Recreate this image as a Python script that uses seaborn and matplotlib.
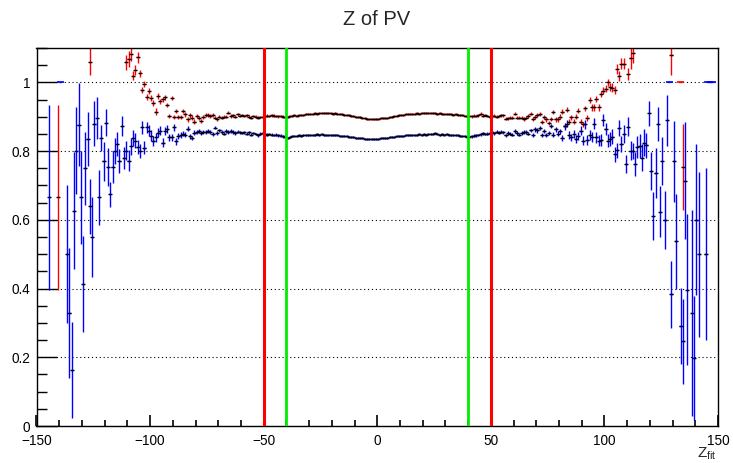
import numpy as np
import pandas as pd
import matplotlib
matplotlib.use("Agg")
import matplotlib.pyplot as plt
from matplotlib.ticker import MultipleLocator, FuncFormatter
import seaborn as sns

# -----------------------------
# Data (efficiency vs Z_fit, 1-unit bins)
# -----------------------------
# core region, consecutive bins from -84.5 to 80.5
core_z = np.arange(-84.5, 81.0, 1.0)

red_core = [
    0.907, 0.892, 0.904, 0.897, 0.886, 0.902, 0.897, 0.887, 0.900, 0.904,
    0.905, 0.902, 0.904, 0.897, 0.892, 0.900, 0.897, 0.900, 0.900, 0.912,
    0.902, 0.904, 0.900, 0.907, 0.902, 0.905, 0.902, 0.904, 0.900, 0.897,
    0.902, 0.900, 0.897, 0.899, 0.900,
    0.901, 0.903, 0.902, 0.904, 0.903, 0.902, 0.901, 0.902, 0.900, 0.899,
    0.900, 0.902, 0.903, 0.904, 0.903, 0.905, 0.906, 0.905, 0.907, 0.908,
    0.907, 0.909, 0.910, 0.909, 0.910, 0.911, 0.910, 0.911, 0.910, 0.910,
    0.909, 0.910, 0.908, 0.907, 0.907, 0.905, 0.906, 0.904, 0.903, 0.902,
    0.900, 0.899, 0.898, 0.897, 0.895, 0.894, 0.894, 0.893, 0.894, 0.893,
    0.894, 0.895, 0.895, 0.896, 0.897, 0.899, 0.900, 0.901, 0.903, 0.904,
    0.905, 0.906, 0.907, 0.907, 0.908, 0.909, 0.908, 0.910, 0.909, 0.910,
    0.911, 0.910, 0.911, 0.910, 0.911, 0.910, 0.909, 0.910, 0.909, 0.908,
    0.909, 0.907, 0.908, 0.906, 0.907, 0.905, 0.904, 0.905, 0.903, 0.902,
    0.902, 0.901, 0.903, 0.902, 0.904, 0.909, 0.903, 0.905, 0.902, 0.899,
    0.901, 0.903, 0.900, 0.902, 0.904,
    0.904, 0.894, 0.895, 0.897, 0.897, 0.909, 0.897, 0.897, 0.897, 0.894,
    0.897, 0.902, 0.909, 0.894, 0.900, 0.904, 0.909, 0.885, 0.900, 0.892,
    0.882, 0.894, 0.914, 0.892, 0.892, 0.900,
]
red_core_err = [
    0.007, 0.007, 0.007, 0.007, 0.007, 0.006, 0.006, 0.006, 0.006, 0.006,
    0.006, 0.006, 0.006, 0.005, 0.005, 0.005, 0.005, 0.005, 0.005, 0.005,
    0.005, 0.005, 0.005, 0.005, 0.004, 0.004, 0.004, 0.004, 0.004, 0.004,
    0.004, 0.004, 0.004, 0.004, 0.004,
    0.004, 0.004, 0.004, 0.004, 0.004, 0.004, 0.004, 0.004, 0.004, 0.004,
    0.003, 0.003, 0.003, 0.003, 0.003, 0.003, 0.003, 0.003, 0.003, 0.003,
    0.003, 0.003, 0.003, 0.003, 0.003, 0.003, 0.003, 0.003, 0.003, 0.003,
    0.003, 0.003, 0.003, 0.003, 0.003, 0.003, 0.003, 0.003, 0.003, 0.003,
    0.003, 0.003, 0.003, 0.003, 0.003, 0.003, 0.003, 0.003, 0.003, 0.003,
    0.003, 0.003, 0.003, 0.003, 0.003, 0.003, 0.003, 0.003, 0.003, 0.003,
    0.003, 0.003, 0.003, 0.003, 0.003, 0.003, 0.003, 0.003, 0.003, 0.003,
    0.003, 0.003, 0.003, 0.003, 0.003, 0.003, 0.003, 0.003, 0.003, 0.003,
    0.003, 0.003, 0.003, 0.003, 0.003, 0.003, 0.003, 0.003, 0.003, 0.003,
    0.004, 0.004, 0.004, 0.004, 0.004, 0.004, 0.004, 0.004, 0.004, 0.004,
    0.004, 0.004, 0.004, 0.004, 0.004,
    0.004, 0.004, 0.005, 0.005, 0.005, 0.005, 0.005, 0.005, 0.005, 0.005,
    0.005, 0.005, 0.005, 0.006, 0.006, 0.006, 0.006, 0.006, 0.006, 0.006,
    0.006, 0.006, 0.007, 0.007, 0.007, 0.007,
]

blue_core = [
    0.848, 0.865, 0.843, 0.838, 0.853, 0.855, 0.858, 0.853, 0.856, 0.855,
    0.858, 0.855, 0.851, 0.868, 0.853, 0.860, 0.855, 0.851, 0.858, 0.855,
    0.858, 0.855, 0.853, 0.857, 0.855, 0.853, 0.855, 0.851, 0.855, 0.848,
    0.853, 0.850, 0.846, 0.851, 0.853,
    0.849, 0.848, 0.850, 0.848, 0.847, 0.848, 0.846, 0.845, 0.843, 0.841,
    0.839, 0.842, 0.843, 0.844, 0.845, 0.846, 0.845, 0.847, 0.846, 0.847,
    0.848, 0.847, 0.848, 0.849, 0.848, 0.849, 0.848, 0.847, 0.848, 0.847,
    0.847, 0.846, 0.846, 0.845, 0.845, 0.844, 0.843, 0.842, 0.841, 0.840,
    0.839, 0.838, 0.837, 0.837, 0.836, 0.836, 0.835, 0.836, 0.835, 0.836,
    0.836, 0.837, 0.837, 0.838, 0.839, 0.840, 0.841, 0.842, 0.843, 0.844,
    0.845, 0.845, 0.846, 0.847, 0.847, 0.848, 0.847, 0.848, 0.849, 0.848,
    0.849, 0.848, 0.849, 0.850, 0.849, 0.852, 0.849, 0.848, 0.849, 0.848,
    0.849, 0.847, 0.848, 0.847, 0.846, 0.846, 0.845, 0.844, 0.843, 0.842,
    0.841, 0.843, 0.845, 0.846, 0.847, 0.849, 0.852, 0.850, 0.851, 0.853,
    0.855, 0.852, 0.856, 0.854, 0.857,
    0.855, 0.846, 0.853, 0.851, 0.848, 0.858, 0.853, 0.848, 0.853, 0.856,
    0.855, 0.851, 0.860, 0.846, 0.863, 0.860, 0.868, 0.848, 0.858, 0.848,
    0.853, 0.872, 0.848, 0.863, 0.851, 0.858,
]
blue_core_err = red_core_err

# left wing
red_left_z = [-140.5, -126.5,
              -110.5, -109.5, -108.5, -107.5, -106.5, -105.5, -104.5, -103.5,
              -102.5, -101.5, -100.5, -99.5, -98.5, -97.5, -96.5, -95.5,
              -94.5, -93.5, -92.5, -91.5, -90.5, -89.5, -88.5, -87.5, -86.5, -85.5]
red_left = [0.665, 1.060,
            1.058, 1.068, 1.083, 1.019, 1.036, 1.073, 1.026, 0.978,
            0.995, 0.958, 0.976, 0.954, 0.940, 0.915, 0.961, 0.945,
            0.951, 0.956, 0.934, 0.902, 0.954, 0.898, 0.917, 0.900, 0.900, 0.917]
red_left_err = [0.270, 0.040,
                0.022, 0.022, 0.020, 0.013, 0.014, 0.016, 0.011, 0.009,
                0.009, 0.009, 0.009, 0.008, 0.008, 0.009, 0.008, 0.008,
                0.007, 0.007, 0.007, 0.007, 0.006, 0.006, 0.006, 0.006, 0.006, 0.006]

blue_left_z = [-144.5, -139.5,
               -136.5, -135.5, -134.5, -133.5, -132.5, -131.5, -130.5, -129.5,
               -128.5, -127.5, -126.5, -125.5, -124.5, -123.5, -122.5, -121.5,
               -120.5, -119.5, -118.5, -117.5, -116.5, -115.5, -114.5, -113.5,
               -112.5, -111.5, -110.5, -109.5, -108.5, -107.5, -106.5, -105.5,
               -104.5, -103.5, -102.5, -101.5, -100.5, -99.5, -98.5, -97.5,
               -96.5, -95.5, -94.5, -93.5, -92.5, -91.5, -90.5, -89.5,
               -88.5, -87.5, -86.5, -85.5]
blue_left = [0.665, 1.000,
             0.500, 0.329, 0.164, 0.626, 0.801, 0.877, 0.665, 0.414,
             0.750, 0.835, 0.640, 0.550, 0.880, 0.896, 0.665, 0.838,
             0.770, 0.883, 0.754, 0.674, 0.754, 0.799, 0.820, 0.772,
             0.873, 0.781, 0.801, 0.772, 0.814, 0.838, 0.830, 0.812,
             0.801, 0.869, 0.810, 0.869, 0.859, 0.845, 0.830, 0.840,
             0.854, 0.859, 0.825, 0.859, 0.864, 0.840, 0.840, 0.869,
             0.828, 0.845, 0.848, 0.851]
blue_left_err = [0.270, 0.000,
                 0.200, 0.190, 0.140, 0.170, 0.127, 0.120, 0.136, 0.140,
                 0.107, 0.078, 0.080, 0.117, 0.066, 0.060, 0.080, 0.037,
                 0.056, 0.040, 0.056, 0.037, 0.046, 0.038, 0.035, 0.035,
                 0.030, 0.032, 0.028, 0.030, 0.025, 0.022, 0.022, 0.020,
                 0.020, 0.018, 0.018, 0.016, 0.016, 0.015, 0.015, 0.014,
                 0.013, 0.013, 0.012, 0.012, 0.011, 0.011, 0.010, 0.010,
                 0.010, 0.009, 0.009, 0.008]

# right wing
red_right_z = [81.5, 82.5, 83.5, 84.5, 85.5, 86.5, 87.5, 88.5, 89.5, 90.5,
               91.5, 92.5, 93.5, 94.5, 95.5, 96.5, 97.5, 98.5, 99.5, 100.5,
               101.5, 102.5, 103.5, 104.5, 105.5, 106.5, 107.5, 108.5,
               110.5, 111.5, 112.5, 129.5, 133.5, 134.5]
red_right = [0.915, 0.873, 0.920, 0.886, 0.898, 0.886, 0.900, 0.917, 0.886, 0.878,
             0.924, 0.896, 0.948, 0.927, 0.927, 0.951, 0.927, 0.966, 0.976, 0.981,
             1.000, 0.987, 0.985, 0.977, 1.039, 1.019, 1.054, 1.054,
             1.024, 1.070, 1.085, 1.080, 1.000, 0.755]
red_right_err = [0.007, 0.007, 0.007, 0.007, 0.007, 0.007, 0.007, 0.007, 0.008, 0.008,
                 0.008, 0.008, 0.008, 0.009, 0.009, 0.009, 0.009, 0.010, 0.010, 0.010,
                 0.011, 0.011, 0.012, 0.012, 0.014, 0.014, 0.016, 0.016,
                 0.018, 0.030, 0.030, 0.060, 0.000, 0.125]

blue_right_z = [81.5, 82.5, 83.5, 84.5, 85.5, 86.5, 87.5, 88.5, 89.5, 90.5,
                91.5, 92.5, 93.5, 94.5, 95.5, 96.5, 97.5, 98.5, 99.5, 100.5,
                101.5, 102.5, 103.5, 104.5, 105.5, 106.5, 107.5, 108.5, 109.5, 110.5,
                111.5, 112.5, 113.5, 114.5, 115.5, 116.5, 117.5, 118.5, 119.5, 120.5,
                121.5, 122.5, 123.5, 124.5, 125.5, 126.5, 127.5, 128.5, 129.5, 130.5,
                131.5, 133.5, 134.5, 135.5, 136.5, 138.5, 139.5, 140.5, 141.5, 144.5,
                145.5, 146.5, 147.5]
blue_right = [0.838, 0.872, 0.880, 0.847, 0.840, 0.850, 0.835, 0.845, 0.859, 0.830,
              0.878, 0.832, 0.847, 0.842, 0.880, 0.840, 0.830, 0.832, 0.890, 0.864,
              0.830, 0.835, 0.842, 0.791, 0.803, 0.867, 0.820, 0.850, 0.762, 0.871,
              0.801, 0.801, 0.762, 0.812, 0.815, 0.781, 0.825, 0.817, 0.910, 0.742,
              0.611, 0.737, 0.878, 0.624, 0.771, 0.600, 0.890, 1.000, 0.383, 0.770,
              0.538, 0.290, 0.246, 0.714, 0.397, 0.330, 0.197, 0.600, 0.500, 0.500,
              1.000, 1.000, 1.000]
blue_right_err = [0.010, 0.010, 0.011, 0.011, 0.011, 0.012, 0.012, 0.012, 0.013, 0.013,
                  0.013, 0.014, 0.014, 0.015, 0.015, 0.016, 0.016, 0.017, 0.018, 0.018,
                  0.019, 0.020, 0.021, 0.022, 0.022, 0.023, 0.024, 0.025, 0.026, 0.027,
                  0.028, 0.024, 0.034, 0.032, 0.034, 0.039, 0.039, 0.037, 0.036, 0.056,
                  0.070, 0.073, 0.050, 0.075, 0.069, 0.084, 0.074, 0.000, 0.097, 0.117,
                  0.138, 0.111, 0.125, 0.170, 0.220, 0.300, 0.180, 0.220, 0.240, 0.250,
                  0.000, 0.000, 0.000]

# cut lines
red_cuts = [-50, 50]
green_cuts = [-40, 40]

# -----------------------------
# Combine into one long table
# -----------------------------
def block(z, eff, err, name):
    return pd.DataFrame({"z": z, "eff": eff, "err": err, "series": name})

df = pd.concat([
    block(red_left_z, red_left, red_left_err, "red"),
    block(core_z, red_core, red_core_err, "red"),
    block(red_right_z, red_right, red_right_err, "red"),
    block(blue_left_z, blue_left, blue_left_err, "blue"),
    block(core_z, blue_core, blue_core_err, "blue"),
    block(blue_right_z, blue_right, blue_right_err, "blue"),
], ignore_index=True)

# -----------------------------
# ROOT-like styling
# -----------------------------
sns.set_style("ticks")
plt.rcParams["font.family"] = ["Liberation Sans", "DejaVu Sans"]
plt.rcParams["mathtext.fontset"] = "custom"
plt.rcParams["mathtext.rm"] = "Liberation Sans"

fig = plt.figure(figsize=(7.33, 4.63), dpi=100)
ax = fig.add_axes([36.5 / 733, 1 - 426 / 463, (718 - 36.5) / 733, (426 - 48) / 463])

colors = {"red": "#ff0000", "blue": "#0000ff"}
for name in ["red", "blue"]:
    d = df[df["series"] == name]
    ax.errorbar(d["z"], d["eff"], yerr=d["err"], xerr=0.5, fmt="none",
                ecolor=colors[name], elinewidth=1.0, capsize=0, zorder=2)
    # full-efficiency bins with no error show only as a coloured dash
    flat = d[d["err"] == 0]
    ax.errorbar(flat["z"], flat["eff"], xerr=1.5, fmt="none",
                ecolor=colors[name], elinewidth=1.2, capsize=0, zorder=2)

sns.scatterplot(data=df[df["err"] > 0], x="z", y="eff", marker="_", s=7, color="black",
                linewidth=1.0, edgecolor="black", legend=False, ax=ax, zorder=3)

for x in red_cuts:
    ax.axvline(x, color="#ff0000", lw=2.2, zorder=4)
for x in green_cuts:
    ax.axvline(x, color="#00ee00", lw=2.0, zorder=4)

ax.set_xlim(-150, 150)
ax.set_ylim(0, 1.1)
ax.set_xticks([-150, -100, -50, 0, 50, 100, 150])
ax.xaxis.set_minor_locator(MultipleLocator(10))
ax.yaxis.set_major_locator(MultipleLocator(0.2))
ax.yaxis.set_minor_locator(MultipleLocator(0.05))
ax.yaxis.set_major_formatter(FuncFormatter(lambda v, p: f"{v:g}"))

ax.yaxis.grid(True, which="major", linestyle=(0, (1, 2.5)), color="black", lw=0.8)
ax.set_xlabel("")
ax.set_ylabel("")
for s in ax.spines.values():
    s.set_visible(True)
    s.set_color("black")
    s.set_linewidth(1.0)

ax.tick_params(axis="x", which="major", direction="in", length=8, width=1.2,
               color="black", labelsize=9.8, labelcolor="black", pad=5.5, bottom=True)
ax.tick_params(axis="x", which="minor", direction="in", length=4, width=1.2,
               color="black", bottom=True)
ax.tick_params(axis="y", which="major", direction="in", length=14.5, width=1.0,
               color="black", labelsize=9.8, labelcolor="black", pad=4.5, left=True)
ax.tick_params(axis="y", which="minor", direction="in", length=7.2, width=1.0,
               color="black", left=True)

fig.text(717 / 733, 5 / 463, r"$\mathrm{Z_{fit}}$", ha="right", va="baseline", fontsize=11)
fig.text(377 / 733, 1 - 19.5 / 463, "Z of PV", ha="center", va="center", fontsize=14.5)

fig.savefig("out.png", dpi=100, facecolor="white")
